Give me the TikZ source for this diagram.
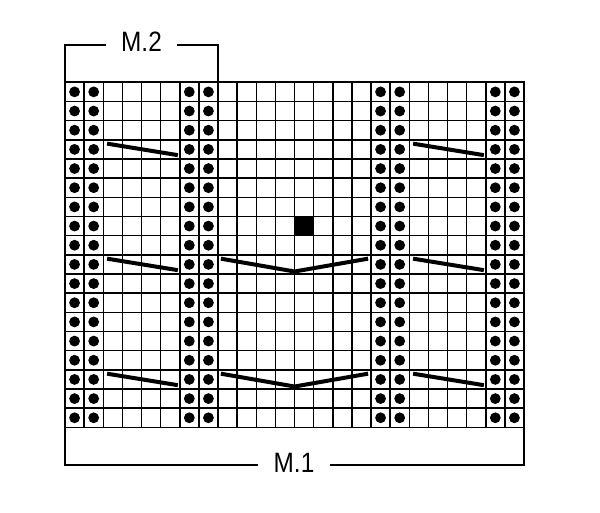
\documentclass[tikz,border=0pt]{standalone}
\usepackage{fontspec}
\setmainfont{Liberation Sans}
\newfontfamily\chartfont{Liberation Sans}[FakeStretch=0.87]
\tikzset{
  gridline/.style={line width=1.5pt},
  border/.style={line width=1.7pt},
  bracket/.style={line width=1.8pt},
  slant/.style={line width=4pt},
  purl/.style={radius=5.4pt},
  lbl/.style={font=\chartfont\fontsize{28}{32}\selectfont, inner xsep=15pt, inner ysep=0pt}
}
\begin{document}
\begin{tikzpicture}[x=1pt,y=-1pt]
\useasboundingbox (0,0) rectangle (600,513);
\begin{scope}[shift={(65,82.3)},x=19.125pt,y=-19.17pt]
\foreach \i in {0,...,24} {\draw [gridline] (\i,0) -- (\i,18);}
\foreach \j in {0,...,18} {\draw [gridline] (0,\j) -- (24,\j);}
\draw [border] (0,0) rectangle (24,18);
\foreach \c in {1,2,7,8,17,18,23,24} {\foreach \r in {1,...,18} {\fill (\c-0.5,\r-0.5) circle [purl];}}
\fill (12,7) rectangle (13,8);
\foreach \r in {3,9,15} {
  \draw [slant] (2.2,\r+0.2) -- (5.9,\r+0.8);
  \draw [slant] (18.2,\r+0.2) -- (21.9,\r+0.8);
}
\foreach \r in {9,15} {\draw [slant] (8.15,\r+0.2) -- (12,\r+0.87) -- (15.85,\r+0.2);}
\coordinate (g2l) at (0,0);
\coordinate (g2r) at (8,0);
\coordinate (g1l) at (0,18);
\coordinate (g1r) at (24,18);
\end{scope}
\node [lbl] (m2) at (141.5,41.7) {M.2};
\node [lbl] (m1) at (294,462.5) {M.1};
\coordinate (m2l) at (65,45);
\coordinate (m2r) at (218,45);
\coordinate (m1l) at (65,465);
\coordinate (m1r) at (524,465);
\draw [bracket] (g2l) -- (m2l) -- (m2.west |- m2l);
\draw [bracket] (g2r) -- (m2r) -- (m2.east |- m2r);
\draw [bracket] (g1l) -- (m1l) -- (m1.west |- m1l);
\draw [bracket] (g1r) -- (m1r) -- (m1.east |- m1r);
\end{tikzpicture}
\end{document}
